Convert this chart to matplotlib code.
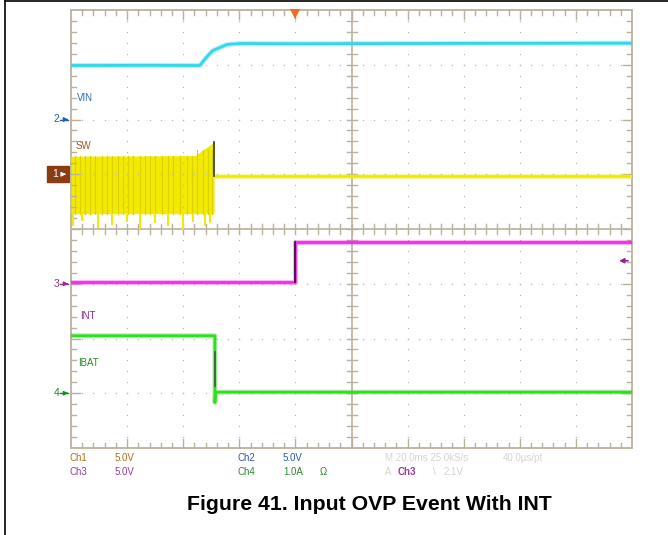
import matplotlib
matplotlib.use('Agg')
import matplotlib.pyplot as plt
from matplotlib.lines import Line2D
from matplotlib.patches import Rectangle

plt.rcParams['font.family'] = ['Liberation Sans Narrow', 'Liberation Sans', 'DejaVu Sans']

# scope settings
ms_per_div = 20.0
t_left = -80.0          # ms at left edge of the screen (trigger at 0)
trig_level = 2.1        # V, trigger on Ch3

# channel scale (units/div) and ground position (div from screen centre)
ch1_scale, ch1_pos = 5.0, 1.0    # SW
ch2_scale, ch2_pos = 5.0, 2.0    # VIN
ch3_scale, ch3_pos = 5.0, -1.0   # INT
ch4_scale, ch4_pos = 1.0, -3.0   # IBAT

# Ch2 VIN (V)
vin_t = [-80, -50, -35, -34, -31.5, -29.4, -26.9, -24.4, -19.7, 0, 60, 120]
vin_v = [4.93, 4.95, 4.93, 4.95, 5.75, 6.3, 6.57, 6.85, 6.94, 6.92, 6.95, 6.97]

# Ch1 SW (V): switching envelope, then flat after OVP
sw_top_t = [-80, -35.8, -32.5, -29.0]
sw_top_v = [1.65, 1.7, 2.3, 2.95]
sw_bot_v = -3.6
sw_stop_t = -29.0
sw_after_t = [-29.0, 0, 60, 120]
sw_after_v = [-0.2, -0.2, -0.2, -0.2]
sw_pulse_t = [-78.6, -76.8, -75.0, -73.2, -71.4, -68.9, -67.2, -65.4, -63.2, -61.5,
              -59.7, -57.9, -55.4, -53.6, -51.8, -50.1, -47.6, -45.4, -43.6, -41.1,
              -38.6, -36.9, -35.1, -32.9, -31.2, -29.7]
sw_spike_t = [-79.3, -76.1, -70.4, -65.4, -60.0, -55.4, -50.0, -45.4, -40.1, -36.5, -32.2, -30.4]
sw_spike_v = [-4.6, -4.2, -4.8, -4.5, -4.3, -4.9, -4.4, -4.6, -5.0, -4.3, -4.6, -4.4]

# Ch3 INT (V)
int_t = [-80, 0, 0, 120]
int_v = [0.2, 0.2, 3.85, 3.85]

# Ch4 IBAT (A)
ibat_t = [-80, -28.7, -28.7, -28.4, 120]
ibat_v = [1.05, 1.05, -0.17, 0.02, 0.02]
ibat_edge = [0.75, 0.13]


def tx(t):
    return [(v - t_left) / ms_per_div for v in t]


def vy(v, scale, pos):
    return [x / scale + pos for x in v]


W, H = 668, 535
fig = plt.figure(figsize=(W / 100, H / 100), dpi=100)
x0, x1, y0, y1 = 71, 632, 10, 448
ax = fig.add_axes([x0 / W, 1 - y1 / H, (x1 - x0) / W, (y1 - y0) / H])
ax.set_xlim(0, 10)
ax.set_ylim(-4, 4)
ax.axis('off')

grid_c = '#bab29c'
dot_c = '#b8b8b8'
px_x = 10 / (x1 - x0)
px_y = 8 / (y1 - y0)

# frame and centre cross
ax.add_patch(Rectangle((0, -4), 10, 8, fill=False, ec=grid_c, lw=1.3, clip_on=False))
ax.plot([5, 5], [-4, 4], color=grid_c, lw=1.2)
ax.plot([0, 10], [0, 0], color=grid_c, lw=1.2)

# dotted graticule
for i in range(1, 10):
    if i == 5:
        continue
    ys = [k * 0.2 - 4 for k in range(1, 40)]
    ax.plot([i] * len(ys), ys, ls='none', marker='s', ms=0.9, color=dot_c, mew=0)
for j in range(-3, 4):
    if j == 0:
        continue
    xs = [k * 0.2 for k in range(1, 50)]
    ax.plot(xs, [j] * len(xs), ls='none', marker='s', ms=0.9, color=dot_c, mew=0)

# tick marks on frame and centre cross
tl = 5
for k in range(1, 50):
    x = k * 0.2
    ln = tl * 1.8 if k % 5 == 0 else tl
    ax.plot([x, x], [4, 4 - ln * px_y], color=grid_c, lw=1)
    ax.plot([x, x], [-4, -4 + ln * px_y], color=grid_c, lw=1)
    ax.plot([x, x], [-tl * px_y, tl * px_y], color=grid_c, lw=1)
for k in range(1, 40):
    y = k * 0.2 - 4
    ln = tl * 1.8 if k % 5 == 0 else tl
    ax.plot([0, ln * px_x], [y, y], color=grid_c, lw=1)
    ax.plot([10, 10 - ln * px_x], [y, y], color=grid_c, lw=1)
    ax.plot([5 - tl * px_x, 5 + tl * px_x], [y, y], color=grid_c, lw=1)

# traces
cyan = '#2fd8ea'
yellow = '#f2ea00'
magenta = '#f22ee6'
green = '#33dd22'


def trace(x, y, col):
    # soft halo + core to mimic the scope's noisy trace
    ax.plot(x, y, color=col, lw=3.6, alpha=0.35, solid_joinstyle='round')
    ax.plot(x, y, color=col, lw=2.0, solid_joinstyle='round')


trace(tx(vin_t), vy(vin_v, ch2_scale, ch2_pos), cyan)

# SW switching band
top_x = tx(sw_top_t)
top_y = vy(sw_top_v, ch1_scale, ch1_pos)
bot_y = vy([sw_bot_v] * len(sw_top_v), ch1_scale, ch1_pos)
ax.fill_between(top_x, bot_y, top_y, color=yellow, lw=0)
for t in sw_pulse_t:
    xp = tx([t])[0]
    ytop = vy([sw_top_v[0] if t < sw_top_t[1] else 2.2], ch1_scale, ch1_pos)[0]
    ax.plot([xp, xp], [vy([sw_bot_v], ch1_scale, ch1_pos)[0], ytop], color='#dcd200', lw=0.8)
for t, v in zip(sw_spike_t, sw_spike_v):
    xp = tx([t])[0]
    ax.plot([xp, xp], vy([sw_bot_v, v], ch1_scale, ch1_pos), color=yellow, lw=1.4)
trace(tx(sw_after_t), vy(sw_after_v, ch1_scale, ch1_pos), yellow)
ax.plot(tx([sw_stop_t, sw_stop_t]), vy([sw_top_v[-1], sw_after_v[0]], ch1_scale, ch1_pos),
        color='#333322', lw=1.2)

trace(tx(int_t), vy(int_v, ch3_scale, ch3_pos), magenta)
ax.plot(tx([int_t[1], int_t[2]]), vy([int_v[1], int_v[2]], ch3_scale, ch3_pos), color='#331133', lw=1.2)

trace(tx(ibat_t), vy(ibat_v, ch4_scale, ch4_pos), green)
ax.plot(tx([ibat_t[1], ibat_t[1]]), vy(ibat_edge, ch4_scale, ch4_pos), color='#445544', lw=1.2)

# trigger position marker and level arrow
ax.plot([tx([0])[0]], [3.93], marker='v', ms=7, color='#f26a22', mew=0, clip_on=False)
ty = vy([trig_level], ch3_scale, ch3_pos)[0]
ax.annotate('', xy=(9.72, ty), xytext=(9.98, ty),
            arrowprops=dict(arrowstyle='-|>', color='#8a2a8a', lw=1.2, mutation_scale=7))


# channel ground markers
def fx(px):
    return px / W


def fy(py):
    return 1 - py / H


fs = 7.5
for num, pos, col in [('2', ch2_pos, '#1f5fa8'), ('3', ch3_pos, '#9a2a9a'), ('4', ch4_pos, '#1f8a1f')]:
    yy = 229 - pos * (y1 - y0) / 8
    fig.text(fx(59), fy(yy), num, color=col, fontsize=fs, ha='right', va='center')
    fig.add_artist(Line2D([fx(60), fx(68)], [fy(yy), fy(yy)], color=col, lw=1))
    ax.annotate('', xy=(0, pos), xytext=(-7 * px_x, pos), annotation_clip=False,
                arrowprops=dict(arrowstyle='-|>', color=col, lw=1, mutation_scale=6))

yy1 = 229 - ch1_pos * (y1 - y0) / 8
fig.add_artist(Rectangle((fx(47), fy(yy1 + 8)), 22 / W, 16 / H, color='#8b3d10', zorder=-1))
fig.text(fx(58), fy(yy1), '1', color='white', fontsize=fs, ha='right', va='center')
ax.annotate('', xy=(-0.04, ch1_pos), xytext=(-10 * px_x, ch1_pos), annotation_clip=False,
            arrowprops=dict(arrowstyle='-|>', color='white', lw=1, mutation_scale=6))

# channel names on screen
lab_fs = 7
fig.text(fx(77), fy(98), 'VIN', color='#2a6ab0', fontsize=lab_fs, va='center')
fig.text(fx(76), fy(146), 'SW', color='#9a5a20', fontsize=lab_fs, va='center')
fig.text(fx(80), fy(316), 'INT', color='#8a2a8a', fontsize=lab_fs, va='center')
fig.text(fx(78), fy(363), 'IBAT', color='#2a8a2a', fontsize=lab_fs, va='center')

# readout below screen
ro_fs = 7
brown, blue, purple, dgreen, grey = '#a8701e', '#2a5aa8', '#9a3a9a', '#2a8a2a', '#d4d4d4'
fig.text(fx(70), fy(458), 'Ch1', color=brown, fontsize=ro_fs, va='center')
fig.text(fx(115), fy(458), '5.0V', color=brown, fontsize=ro_fs, va='center')
fig.text(fx(70), fy(472), 'Ch3', color=purple, fontsize=ro_fs, va='center')
fig.text(fx(115), fy(472), '5.0V', color=purple, fontsize=ro_fs, va='center')
fig.text(fx(238), fy(458), 'Ch2', color=blue, fontsize=ro_fs, va='center')
fig.text(fx(283), fy(458), '5.0V', color=blue, fontsize=ro_fs, va='center')
fig.text(fx(238), fy(472), 'Ch4', color=dgreen, fontsize=ro_fs, va='center')
fig.text(fx(283), fy(472), '1.0A', color=dgreen, fontsize=ro_fs, va='center')
fig.text(fx(320), fy(472), 'Ω', color=dgreen, fontsize=ro_fs, va='center')
fig.text(fx(385), fy(458), 'M 20.0ms 25.0kS/s', color=grey, fontsize=ro_fs, va='center')
fig.text(fx(503), fy(458), '40.0µs/pt', color=grey, fontsize=ro_fs, va='center')
fig.text(fx(385), fy(472), 'A', color=grey, fontsize=ro_fs, va='center')
fig.text(fx(398), fy(472), 'Ch3', color=purple, fontsize=ro_fs, va='center', fontweight='bold')
fig.text(fx(433), fy(472), '\\', color=grey, fontsize=ro_fs, va='center')
fig.text(fx(444), fy(472), '2.1V', color=grey, fontsize=ro_fs, va='center')

# caption
fig.text(fx(369), fy(505), 'Figure 41. Input OVP Event With INT', fontsize=15.3,
         fontweight='bold', ha='center', va='center', color='black')

# page border
fig.add_artist(Line2D([fx(5), 1], [fy(1), fy(1)], color='black', lw=1.2))
fig.add_artist(Line2D([fx(5), fx(5)], [fy(1), 0], color='black', lw=1.2))

fig.savefig('out.png', dpi=100)
